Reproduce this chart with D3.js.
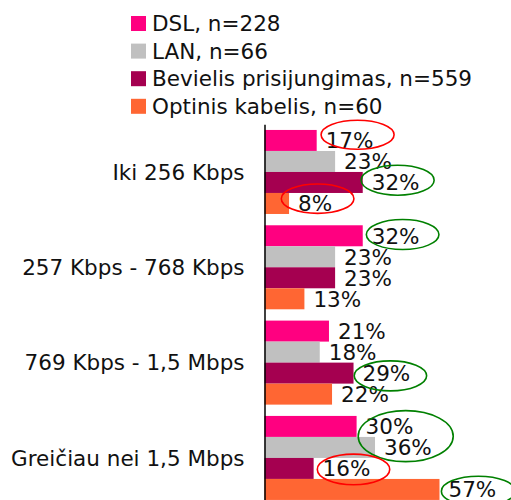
<!DOCTYPE html>
<html>
<head>
<meta charset="utf-8">
<script src="https://cdn.jsdelivr.net/npm/d3@7"></script>
<style>
  body { margin: 0; background: #fff; }
  text { font-family: "DejaVu Sans", Verdana, sans-serif; fill: #111; }
</style>
</head>
<body>
<svg width="511" height="500"></svg>
<script>
// ### Data ###
var categories = ['Iki 256 Kbps', '257 Kbps - 768 Kbps', '769 Kbps - 1,5 Mbps', 'Greičiau nei 1,5 Mbps']
var seriesNames = ['DSL, n=228', 'LAN, n=66', 'Bevielis prisijungimas, n=559', 'Optinis kabelis, n=60']
var seriesColors = ['#ff0080', '#c0c0c0', '#a50050', '#ff6633']
var dslValues = [17, 32, 21, 30]
var lanValues = [23, 23, 18, 36]
var bevielisValues = [32, 23, 29, 16]
var optinisValues = [8, 13, 22, 57]

// ellipse annotations: category index, series index(es), colour, offsets from label
var marks = [
	{c: 0, s: [0], color: 'red', dx: 8, dy: -6, rx: 36.5, ry: 14.5},
	{c: 0, s: [2], color: 'green', dx: 2, dy: -2.5, rx: 36.5, ry: 15},
	{c: 0, s: [3], color: 'red', dx: 2.5, dy: -5, rx: 36.3, ry: 14.7},
	{c: 1, s: [0], color: 'green', dx: 7, dy: -1.5, rx: 36.3, ry: 15},
	{c: 2, s: [2], color: 'green', dx: 4, dy: 2.5, rx: 36.2, ry: 15},
	{c: 3, s: [0, 1], color: 'green', dx: 7, dy: -1, rx: 47.5, ry: 25.5},
	{c: 3, s: [2], color: 'red', dx: 7, dy: 0.7, rx: 36.2, ry: 15.3},
	{c: 3, s: [3], color: 'green', dx: 6, dy: 1.5, rx: 37, ry: 15}
]

var allValues = [dslValues, lanValues, bevielisValues, optinisValues]

var rows = []
categories.forEach(function(cat, ci) {
	allValues.forEach(function(vals, si) {
		rows.push({cat: cat, ci: ci, si: si, value: vals[ci]})
	})
})

var svg = d3.select('svg')

// ### Scales ###
var yScale = d3.scaleBand()
				.domain(categories)
				.range([124.3, 505.6])
				.paddingInner(0.1186)
				.paddingOuter(0.0593)

var ySub = d3.scaleBand()
				.domain(d3.range(seriesNames.length))
				.range([0, yScale.bandwidth()])

var xScale = d3.scaleLinear()
				.domain([0, 100])
				.range([264.5, 571.5])

var fontSize = 21.5

// ### Bars ###
svg.selectAll('rect.bar')
	.data(rows)
	.enter()
	.append('rect')
	.attr('class', 'bar')
	.attr('x', xScale(0))
	.attr('y', d => yScale(d.cat) + ySub(d.si))
	.attr('width', d => xScale(d.value) - xScale(0))
	.attr('height', ySub.bandwidth())
	.attr('fill', d => seriesColors[d.si])

// ### Value labels ###
var labels = svg.selectAll('text.val')
	.data(rows)
	.enter()
	.append('text')
	.attr('class', 'val')
	.attr('x', d => xScale(d.value) + 9)
	.attr('y', d => yScale(d.cat) + ySub(d.si) + ySub.bandwidth() / 2)
	.attr('dy', '0.36em')
	.style('font-size', fontSize + 'px')
	.text(d => d.value + '%')

// ### Axis ###
var yAxis = d3.axisLeft(yScale)
				.tickSize(0)
				.tickSizeOuter(0)
				.tickPadding(20)

var axisG = svg.append('g')
	.attr('transform', `translate(${xScale(0)},0)`)
	.call(yAxis)

axisG.select('.domain').attr('stroke', '#000').attr('stroke-width', 1.5)
axisG.selectAll('text')
	.style('font-size', fontSize + 'px')
	.style('font-family', '"DejaVu Sans", Verdana, sans-serif')
	.attr('fill', '#111')
	.attr('dy', '0.36em')

// ### Ellipses ###
var labelNodes = labels.nodes()
marks.forEach(function(m) {
	var boxes = m.s.map(si => labelNodes[m.c * seriesNames.length + si].getBBox())
	var x0 = d3.min(boxes, b => b.x), x1 = d3.max(boxes, b => b.x + b.width)
	var y0 = d3.min(boxes, b => b.y), y1 = d3.max(boxes, b => b.y + b.height)
	svg.append('ellipse')
		.attr('cx', (x0 + x1) / 2 + m.dx)
		.attr('cy', (y0 + y1) / 2 + m.dy)
		.attr('rx', m.rx)
		.attr('ry', m.ry)
		.attr('fill', 'none')
		.attr('stroke', m.color === 'red' ? '#ff0000' : '#008000')
		.attr('stroke-width', 1.6)
})

// ### Legend ###
var legend = svg.selectAll('g.leg')
	.data(seriesNames)
	.enter()
	.append('g')
	.attr('class', 'leg')
	.attr('transform', (d, i) => `translate(131, ${16 + i * 27.6})`)

legend.append('rect')
	.attr('width', 15)
	.attr('height', 15)
	.attr('fill', (d, i) => seriesColors[i])

legend.append('text')
	.attr('x', 21)
	.attr('y', 7.5)
	.attr('dy', '0.36em')
	.style('font-size', fontSize + 'px')
	.text(d => d)
</script>
</body>
</html>
